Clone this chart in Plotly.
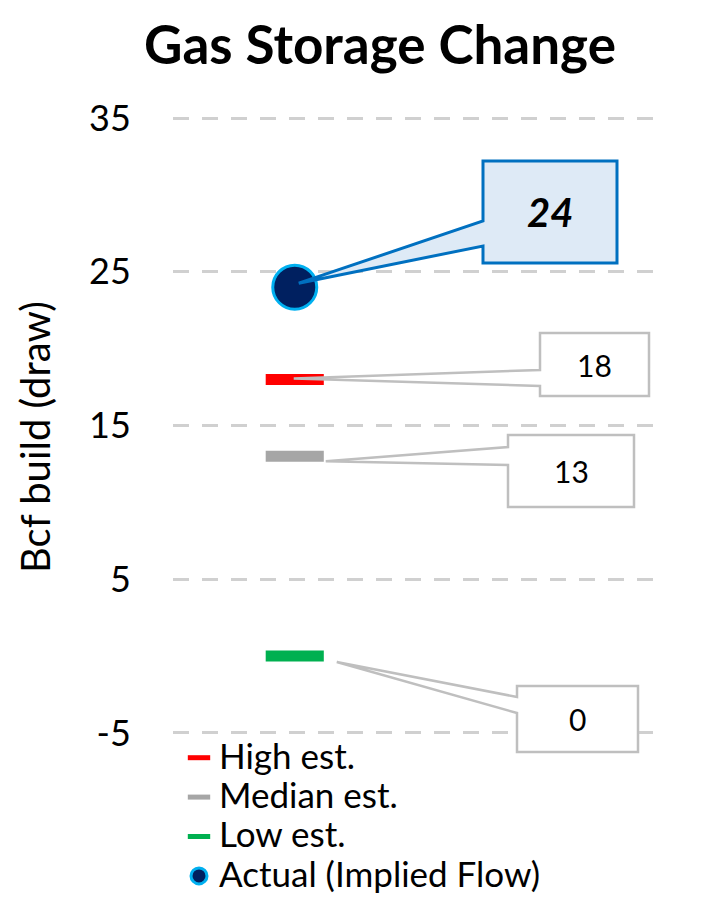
import plotly.graph_objects as go

# ---- data ----
series_names = ["High est.", "Median est.", "Low est.", "Actual (Implied Flow)"]
series_values = [18, 13, 0, 24]
series_colors = ["#FF0000", "#A6A6A6", "#00B050", "#002060"]
y_ticks = [-5, 5, 15, 25, 35]
category_x = 0.25

FONT = "Lato"
W, H = 705, 900
Y0, Y1 = -5.2, 35.2
PXU = 15.375                     # pixels per unit
T = round(118 - (Y1 - 35) * PXU)
BOT = round(733 + (-5 - Y0) * PXU)
L, R = 173, 45
B = H - BOT
PW, PH = W - L - R, BOT - T

def PX(px):          # pixel -> paper x
    return (px - L) / PW

def PY(py):          # pixel -> paper y
    return (BOT - py) / PH

def vpy(v):          # data value -> paper y
    return (v - Y0) / (Y1 - Y0)

fig = go.Figure()
for name, val, col in zip(series_names[:3], series_values[:3], series_colors[:3]):
    fig.add_trace(go.Scatter(
        x=[category_x], y=[val], mode="markers",
        name=f"<span style='font-size:35px'>{name}</span>",
        marker=dict(symbol="line-ew", size=41.5, line=dict(color=col, width=11)),
        hoverinfo="skip"))
fig.add_trace(go.Scatter(
    x=[category_x], y=[series_values[3]], mode="markers",
    name=f"<span style='font-size:35px'>{series_names[3]}</span>",
    marker=dict(symbol="circle", size=44, color=series_colors[3],
                line=dict(color="#00B0F0", width=3)),
    hoverinfo="skip"))

# callouts: (value index, box px [x0,y0,x1,y1], wedge y on left edge (px), tip offset px, style)
callouts = [
    (3, (483, 161, 617, 263), (221, 246), (4, -4), "#DEEAF6", "#0070C0", 3, 40, True),
    (0, (540, 333, 649, 396), (370, 386), (-1, -1), "white", "#BFBFBF", 2.5, 30, False),
    (1, (508, 435, 634, 507), (447, 465), (31, 5), "white", "#BFBFBF", 2.5, 30, False),
    (2, (517, 686, 638, 752), (697, 713), (42, 6), "white", "#BFBFBF", 2.5, 30, False),
]
cat_px = L + category_x * PW
for idx, (bx0, by0, bx1, by1), (wy0, wy1), (dx, dy), fill, border, bw, fs, bold in callouts:
    val = series_values[idx]
    tx = PX(cat_px + dx)
    ty = vpy(val) - dy / PH
    pts = [(PX(bx0), PY(by0)), (PX(bx1), PY(by0)), (PX(bx1), PY(by1)), (PX(bx0), PY(by1)),
           (PX(bx0), PY(wy1)), (tx, ty), (PX(bx0), PY(wy0))]
    path = "M " + " L ".join(f"{a:.5f},{b:.5f}" for a, b in pts) + " Z"
    fig.add_shape(type="path", path=path, xref="paper", yref="paper",
                  fillcolor=fill, line=dict(color=border, width=bw), layer="above")
    txt = f"<b><i>{val}</i></b>" if bold else f"{val}"
    fig.add_annotation(x=PX((bx0 + bx1) / 2), y=PY((by0 + by1) / 2), xref="paper", yref="paper",
                       xanchor="center", yanchor="middle",
                       text=txt, showarrow=False,
                       font=dict(family=FONT, size=fs, color="black"))

# y-axis title
fig.add_annotation(x=PX(35), y=PY(437), xref="paper", yref="paper",
                   xanchor="center", yanchor="middle", textangle=-90,
                   text="Bcf build (draw)", showarrow=False,
                   font=dict(family=FONT, size=40, color="black"))

fig.update_layout(
    width=W, height=H,
    margin=dict(l=L, r=R, t=T, b=B, autoexpand=False),
    paper_bgcolor="white", plot_bgcolor="white",
    title=dict(text="<b>Gas Storage Change</b>", x=380 / W, xanchor="center",
               y=1 - 45 / H, yanchor="middle", yref="container",
               font=dict(family=FONT, size=53, color="black")),
    showlegend=True,
    legend=dict(x=PX(179), y=PY(733), xanchor="left", yanchor="top",
                font=dict(family=FONT, size=28, color="black"),
                bgcolor="rgba(0,0,0,0)", tracegroupgap=0),
    xaxis=dict(range=[0, 1], visible=False, fixedrange=True),
    yaxis=dict(range=[Y0, Y1], tickvals=y_ticks, ticktext=[str(v) for v in y_ticks],
               showgrid=True, gridcolor="#D0D0D0", gridwidth=3, griddash="16px,13px",
               zeroline=False, showline=False, fixedrange=True,
               ticks="outside", ticklen=34, tickcolor="rgba(0,0,0,0)",
               tickfont=dict(family=FONT, size=36, color="black")),
)
fig.write_html("out.html", config={"displayModeBar": False},
               post_script="document.body.style.margin='0px';")
